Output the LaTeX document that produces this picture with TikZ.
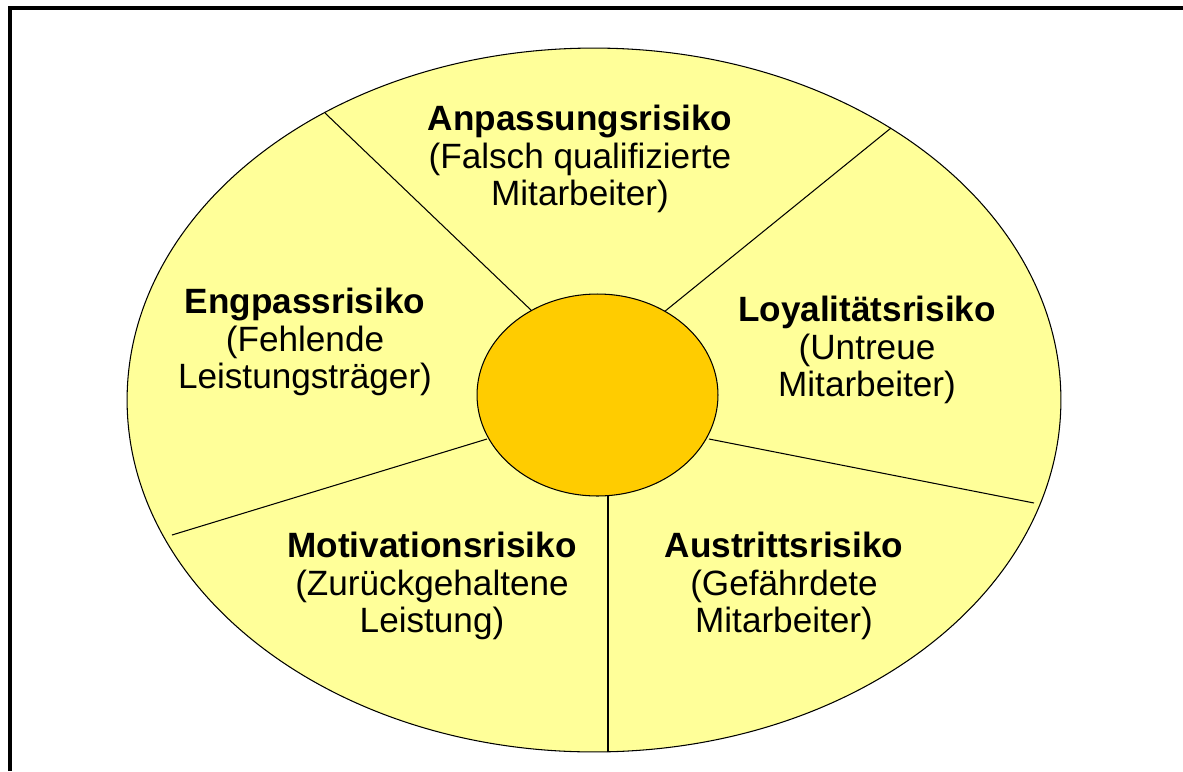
\documentclass[tikz,border=0pt]{standalone}
\usepackage{fontspec}
\setmainfont{Liberation Sans}
\usetikzlibrary{shapes.geometric}
\definecolor{paleyellow}{HTML}{FFFF99}
\definecolor{gold}{HTML}{FFCC00}
\begin{document}
\begin{tikzpicture}[x=0.02cm,y=-0.02cm,
  frame/.style={line width=2pt},
  ring/.style={draw=black, line width=0.6pt, ellipse, inner sep=0pt},
  divider/.style={draw=black, line width=0.6pt},
  label/.style={align=center, font=\fontsize{20}{21.5}\selectfont, inner sep=0pt}]
\useasboundingbox (0,0) rectangle (1183,771);
\fill[white] (0,0) rectangle (1183,771);
\coordinate (fbl) at (10,771);
\coordinate (ftl) at (10,8);
\coordinate (ftr) at (1183,8);
\draw[frame] (fbl) -- (ftl) -- (ftr);
\node[ring, fill=paleyellow, minimum width=18.68cm, minimum height=14.08cm] (outer) at (594,400) {};
% divider end points
\coordinate (o1) at (325,113);  \coordinate (i1) at (533,312);
\coordinate (o2) at (891,128);  \coordinate (i2) at (664,312);
\coordinate (o3) at (1034,503); \coordinate (i3) at (709,439);
\coordinate (o4) at (608,752);  \coordinate (i4) at (608,494);
\coordinate (o5) at (172,535);  \coordinate (i5) at (487,439);
\draw[divider] (o1) -- (i1);
\draw[divider] (o2) -- (i2);
\draw[divider] (o3) -- (i3);
\draw[divider] (o4) -- (i4);
\draw[divider] (o5) -- (i5);
\node[ring, fill=gold, minimum width=4.82cm, minimum height=4.04cm] (inner) at (597.5,395) {};
\node[label] (t1) at (580,159) {\textbf{Anpassungsrisiko}\\(Falsch qualifizierte\\Mitarbeiter)};
\node[label] (t2) at (305,342) {\textbf{Engpassrisiko}\\(Fehlende\\Leistungsträger)};
\node[label] (t3) at (867,350) {\textbf{Loyalitätsrisiko}\\(Untreue\\Mitarbeiter)};
\node[label] (t4) at (432,586) {\textbf{Motivationsrisiko}\\(Zurückgehaltene\\Leistung)};
\node[label] (t5) at (784,586) {\textbf{Austrittsrisiko}\\(Gefährdete\\Mitarbeiter)};
\end{tikzpicture}
\end{document}
